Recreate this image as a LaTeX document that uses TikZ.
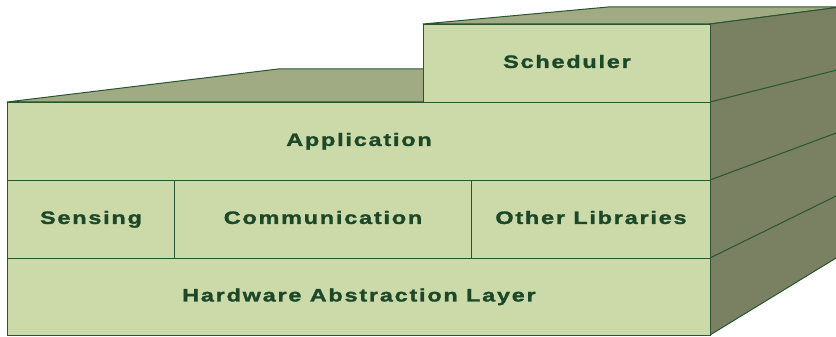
\documentclass[tikz,border=0pt]{standalone}
\usepackage{fontspec}
\setmainfont{Liberation Sans}[LetterSpace=10, FakeStretch=1.3, BoldFeatures={FakeBold=1.5}]
\definecolor{frontgreen}{RGB}{204,218,170}
\definecolor{topgreen}{RGB}{161,171,131}
\definecolor{sidegreen}{RGB}{122,128,98}
\definecolor{edgegreen}{RGB}{40,85,50}
\definecolor{textgreen}{RGB}{28,72,40}
\tikzset{
  layer/.style={draw=edgegreen, fill=frontgreen, line width=1pt, anchor=north west,
    inner sep=0pt, font=\fontsize{18}{20}\selectfont\bfseries, text=textgreen,
    text height=12.9pt, text depth=4pt},
  facet/.style={draw=edgegreen, line width=1pt, line join=round}
}
\begin{document}
\begin{tikzpicture}[x=1pt,y=-1pt]
  \useasboundingbox (0,0) rectangle (836,337);
  % top faces and right side
  \draw[facet, fill=topgreen] (7,102) -- (278,69) -- (841,69) -- (710,102) -- cycle;
  \draw[facet, fill=topgreen] (423,24) -- (608,7) -- (841,7) -- (710,24) -- cycle;
  \draw[facet, fill=sidegreen] (710,24) -- (841,7) -- (841,255) -- (710,335) -- cycle;
  \draw[facet] (710,102) -- (841,69);
  \draw[facet] (710,180) -- (841,131.2);
  \draw[facet] (710,258) -- (841,193.6);
  % front faces
  \node[layer, minimum width=287pt, minimum height=78pt] (sched) at (423,24) {Scheduler};
  \node[layer, minimum width=703pt, minimum height=78pt] (app) at (7,102) {Application};
  \node[layer, minimum width=167pt, minimum height=78pt] (sens) at (7,180) {Sensing};
  \node[layer, minimum width=297pt, minimum height=78pt] (comm) at (174,180) {Communication};
  \node[layer, minimum width=239pt, minimum height=78pt] (libs) at (471,180) {Other Libraries};
  \node[layer, minimum width=703pt, minimum height=77pt] (hal) at (7,258) {Hardware Abstraction Layer};
\end{tikzpicture}
\end{document}
